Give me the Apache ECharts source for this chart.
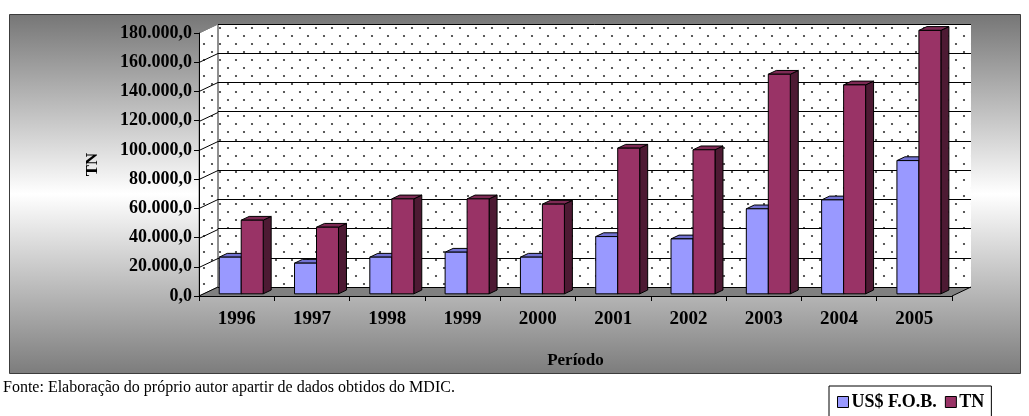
<!DOCTYPE html>
<html>
<head>
<meta charset="utf-8">
<script src="https://cdn.jsdelivr.net/npm/echarts@6/dist/echarts.min.js"></script>
<style>
  html, body { margin: 0; padding: 0; background: #fff; }
  #chart { width: 1029px; height: 416px; }
</style>
</head>
<body>
<div id="chart"></div>
<script>
// Exportações por ano: valor em US$ F.O.B. e volume em toneladas
const categories = ['1996', '1997', '1998', '1999', '2000', '2001', '2002', '2003', '2004', '2005'];
const usdFob = [25100, 21000, 25100, 28500, 25100, 39200, 37600, 58200, 64300, 91200];
const toneladas = [50400, 45600, 65000, 65000, 61400, 99700, 98600, 150300, 143000, 180300];
const yTicks = [0, 20000, 40000, 60000, 80000, 100000, 120000, 140000, 160000, 180000];
const seriesNames = ['US$ F.O.B.', 'TN'];
const footnote = 'Fonte: Elaboração do próprio autor apartir de dados obtidos do MDIC.';

// Layout of the pseudo-3D plot box
const FRONT = { left: 199, top: 33, width: 753, height: 263 };
const DEPTH = { dx: 19, dy: -9 };
const BACK = { left: FRONT.left + DEPTH.dx, top: FRONT.top + DEPTH.dy, width: FRONT.width, height: FRONT.height };
const BAR_SHIFT = { dx: DEPTH.dx * 0.24, dy: DEPTH.dy * 0.24 };
const BAR_DEPTH = { dx: DEPTH.dx * 0.42, dy: DEPTH.dy * 0.42 };
const BAR_FRAC = 0.292;
const Y_MAX = yTicks[yTicks.length - 1];
const SERIF = '"Liberation Serif", "Times New Roman", serif';

const faces = [
  { front: '#9999ff', top: '#7272d2', side: '#4c4c99' },
  { front: '#993366', top: '#7d2a54', side: '#4d1a33' }
];

// dotted fill used on the walls
const dots = document.createElement('canvas');
dots.width = 16; dots.height = 16;
(function () {
  const g = dots.getContext('2d');
  g.fillStyle = '#fff';
  g.fillRect(0, 0, 16, 16);
  g.fillStyle = '#333';
  g.beginPath(); g.arc(4, 4, 1.1, 0, Math.PI * 2); g.fill();
  g.beginPath(); g.arc(12, 12, 1.1, 0, Math.PI * 2); g.fill();
})();
const dotFill = { image: dots, repeat: 'repeat' };

function fmt(v) {
  return String(v).replace(/\B(?=(\d{3})+(?!\d))/g, '.') + ',0';
}
function yPix(v) {
  return FRONT.top + FRONT.height * (1 - v / Y_MAX);
}

function barRenderer(sIdx) {
  const c = faces[sIdx];
  return function (params, api) {
    const i = api.value(0), v = api.value(1);
    const base = api.coord([i, 0]);
    const top = api.coord([i, v]);
    const w = api.size([1, 0])[0] * BAR_FRAC;
    const cx = base[0] + BAR_SHIFT.dx;
    const x0 = sIdx === 0 ? cx - w : cx;
    const yb = base[1] + BAR_SHIFT.dy;
    const yt = top[1] + BAR_SHIFT.dy;
    const ddx = BAR_DEPTH.dx, ddy = BAR_DEPTH.dy;
    const stroke = { stroke: '#000', lineWidth: 1 };
    return {
      type: 'group',
      children: [
        { type: 'polygon', shape: { points: [[x0 + w, yt], [x0 + w + ddx, yt + ddy], [x0 + w + ddx, yb + ddy], [x0 + w, yb]] },
          style: Object.assign({ fill: c.side }, stroke) },
        { type: 'polygon', shape: { points: [[x0, yt], [x0 + w, yt], [x0 + w + ddx, yt + ddy], [x0 + ddx, yt + ddy]] },
          style: Object.assign({ fill: c.top }, stroke) },
        { type: 'rect', shape: { x: x0, y: yt, width: w, height: yb - yt },
          style: Object.assign({ fill: c.front }, stroke) }
      ]
    };
  };
}

// walls, floor and the side-wall grid lines
const L = FRONT.left, R = FRONT.left + FRONT.width, B = FRONT.top + FRONT.height;
const decor = [
  { type: 'rect', z: -20, shape: { x: 9.5, y: 14.5, width: 1011, height: 359 },
    style: { fill: new echarts.graphic.LinearGradient(0, 0, 0, 1, [
      { offset: 0, color: '#767676' }, { offset: 0.5, color: '#ffffff' }, { offset: 1, color: '#7c7c7c' }
    ]), stroke: '#3c3c3c', lineWidth: 1 } },
  { type: 'rect', z: -10, shape: { x: BACK.left, y: BACK.top, width: BACK.width, height: BACK.height },
    style: { fill: dotFill, stroke: 'none' } },
  { type: 'polygon', z: -10, shape: { points: [[L, FRONT.top], [BACK.left, BACK.top], [BACK.left, B + DEPTH.dy], [L, B]] },
    style: { fill: dotFill, stroke: '#808080', lineWidth: 1 } },
  { type: 'polyline', z: -9, shape: { points: [[BACK.left, B + DEPTH.dy], [BACK.left, BACK.top], [BACK.left + BACK.width, BACK.top]] },
    style: { stroke: '#808080', lineWidth: 1.5, fill: 'none' } },
  { type: 'polygon', z: -8, shape: { points: [[L, B], [R, B], [R + DEPTH.dx, B + DEPTH.dy], [BACK.left, B + DEPTH.dy]] },
    style: { fill: '#808080', stroke: 'none' } },
  { type: 'line', z: -7, shape: { x1: R, y1: B, x2: R + DEPTH.dx, y2: B + DEPTH.dy },
    style: { stroke: '#000', lineWidth: 1 } }
];
yTicks.forEach(function (t) {
  if (t === 0 || t === Y_MAX) return;
  const y = Math.round(yPix(t)) + 0.5;
  decor.push({ type: 'line', z: -7, shape: { x1: L, y1: y, x2: BACK.left, y2: y + DEPTH.dy },
    style: { stroke: '#000', lineWidth: 1 } });
});
decor.push({ type: 'line', z: -7, shape: { x1: L, y1: B, x2: BACK.left, y2: B + DEPTH.dy },
  style: { stroke: '#000', lineWidth: 1 } });
decor.push({ type: 'line', z: -7, shape: { x1: L, y1: FRONT.top, x2: BACK.left, y2: BACK.top },
  style: { stroke: '#808080', lineWidth: 1 } });

const chart = echarts.init(document.getElementById('chart'), null, { renderer: 'canvas' });
chart.setOption({
  animation: false,
  backgroundColor: '#fff',
  title: {
    text: footnote, left: 3, top: 380, padding: 0,
    textStyle: { fontFamily: SERIF, fontSize: 16, fontWeight: 'normal', color: '#000' }
  },
  legend: {
    data: seriesNames, left: 829, top: 386, orient: 'horizontal',
    padding: [7, 7, 20, 8], itemGap: 8, itemWidth: 11, itemHeight: 11,
    backgroundColor: '#fff', borderColor: '#000', borderWidth: 1,
    icon: 'rect',
    itemStyle: { borderColor: '#000', borderWidth: 1 },
    textStyle: { fontFamily: SERIF, fontSize: 18, fontWeight: 'bold', color: '#000', padding: [0, 0, 0, -2] }
  },
  graphic: { elements: decor },
  grid: [
    { left: FRONT.left, top: FRONT.top, width: FRONT.width, height: FRONT.height },
    { left: BACK.left, top: BACK.top, width: BACK.width, height: BACK.height }
  ],
  xAxis: [
    { type: 'category', gridIndex: 0, data: categories, boundaryGap: true,
      name: 'Período', nameLocation: 'middle', nameGap: 56,
      nameTextStyle: { fontFamily: SERIF, fontSize: 17, fontWeight: 'bold', color: '#000' },
      axisLine: { show: true, lineStyle: { color: '#000', width: 1 } },
      axisTick: { show: true, inside: false, length: 5, interval: 0, lineStyle: { color: '#000' } },
      axisLabel: { margin: 14, fontFamily: SERIF, fontSize: 19, fontWeight: 'bold', color: '#000', interval: 0 },
      splitLine: { show: false } },
    { type: 'category', gridIndex: 1, data: categories, show: false }
  ],
  yAxis: [
    { type: 'value', gridIndex: 0, min: 0, max: Y_MAX, interval: 20000,
      name: 'TN', nameLocation: 'middle', nameGap: 98, nameRotate: 90,
      nameTextStyle: { fontFamily: SERIF, fontSize: 17, fontWeight: 'bold', color: '#000' },
      axisLine: { show: true, lineStyle: { color: '#000', width: 1 } },
      axisTick: { show: true, inside: false, length: 5, lineStyle: { color: '#000' } },
      axisLabel: { margin: 7, formatter: fmt, fontFamily: SERIF, fontSize: 18, fontWeight: 'bold', color: '#000' },
      splitLine: { show: false } },
    { type: 'value', gridIndex: 1, min: 0, max: Y_MAX, interval: 20000,
      axisLine: { show: false }, axisTick: { show: false }, axisLabel: { show: false },
      splitLine: { show: true, lineStyle: { color: '#000', width: 1 } } }
  ],
  series: [
    { name: seriesNames[0], type: 'custom', xAxisIndex: 0, yAxisIndex: 0,
      itemStyle: { color: faces[0].front },
      renderItem: barRenderer(0), encode: { x: 0, y: 1 },
      data: categories.map(function (c, i) { return [i, usdFob[i]]; }) },
    { name: seriesNames[1], type: 'custom', xAxisIndex: 0, yAxisIndex: 0,
      itemStyle: { color: faces[1].front },
      renderItem: barRenderer(1), encode: { x: 0, y: 1 },
      data: categories.map(function (c, i) { return [i, toneladas[i]]; }) }
  ]
});
</script>
</body>
</html>
